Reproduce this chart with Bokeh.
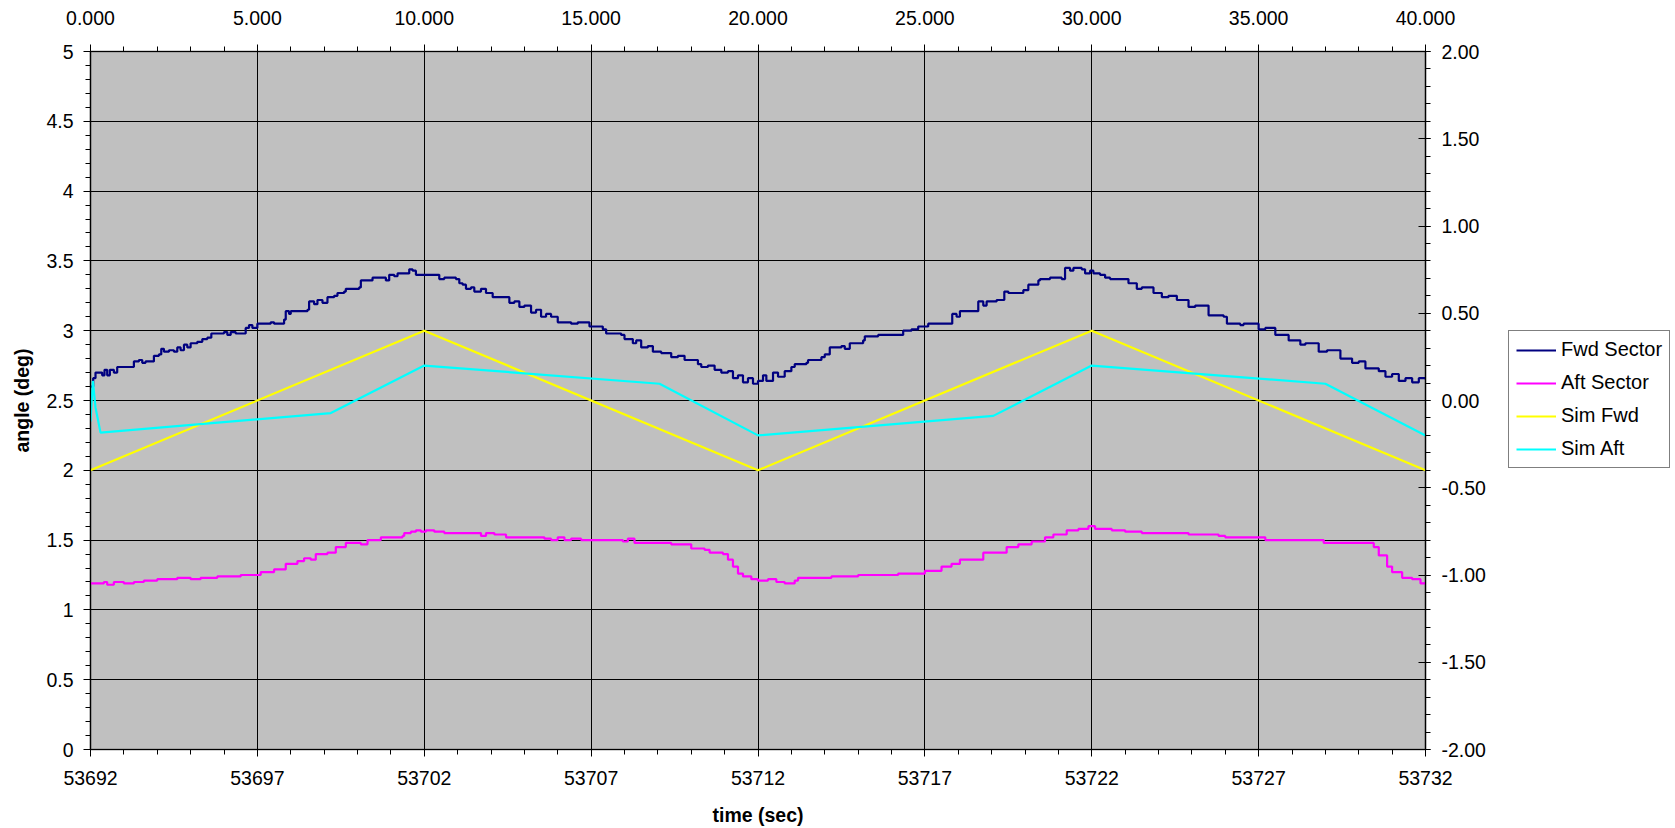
from bokeh.plotting import figure
from bokeh.layouts import row
from bokeh.models import (Range1d, LinearAxis, FixedTicker, NumeralTickFormatter,
                          Legend, LegendItem)
from bokeh.embed import file_html
from bokeh.resources import INLINE

# ---------------- data ----------------
fwd_t = [0.00, 0.08, 0.15, 0.30, 0.35, 0.42, 0.50, 0.58, 0.70, 0.80, 1.10, 1.30, 1.45, 1.55,
         1.65, 1.80, 1.90, 2.05, 2.12, 2.20, 2.35, 2.50, 2.60, 2.70, 2.80, 2.90, 3.00, 3.20,
         3.35, 3.50, 3.62, 3.85, 4.00, 4.10, 4.20, 4.35, 4.65, 4.75, 4.85, 5.00, 5.40, 5.50,
         5.80, 5.85, 5.95, 6.00, 6.50, 6.55, 6.70, 6.80, 6.95, 7.10, 7.30, 7.40, 7.60, 7.65,
         8.05, 8.10, 8.40, 8.45, 8.80, 8.85, 8.95, 9.10, 9.20, 9.50, 9.55, 9.65, 9.75, 10.40,
         10.45, 10.60, 10.95, 11.05, 11.15, 11.25, 11.40, 11.50, 11.70, 11.85, 12.05, 12.45,
         12.55, 12.70, 12.85, 13.00, 13.20, 13.35, 13.50, 13.65, 13.80, 14.00, 14.40, 14.60,
         14.95, 15.35, 15.45, 15.90, 16.00, 16.25, 16.35, 16.50, 16.70, 16.85, 17.10, 17.40,
         17.60, 17.80, 18.05, 18.20, 18.30, 18.50, 18.70, 18.90, 19.10, 19.25, 19.40, 19.55,
         19.70, 19.85, 20.00, 20.15, 20.25, 20.45, 20.60, 20.80, 21.00, 21.10, 21.45, 21.50,
         21.90, 22.00, 22.15, 22.50, 22.60, 22.75, 23.15, 23.20, 23.50, 23.60, 24.25, 24.35,
         24.60, 24.80, 25.10, 25.70, 25.82, 25.95, 26.05, 26.45, 26.60, 26.75, 26.85, 27.15,
         27.38, 27.50, 27.95, 28.10, 28.40, 28.45, 28.75, 29.10, 29.20, 29.35, 29.45, 29.70,
         29.80, 29.95, 30.05, 30.25, 30.40, 30.55, 30.95, 31.10, 31.35, 31.50, 31.85, 32.10,
         32.30, 32.55, 32.90, 33.10, 33.50, 33.95, 34.05, 34.45, 34.55, 35.00, 35.20, 35.50,
         35.90, 36.25, 36.40, 36.80, 37.05, 37.45, 37.80, 38.00, 38.20, 38.60, 38.80, 39.00,
         39.20, 39.40, 39.60, 39.80, 40.00]
fwd_v = [2.60, 2.66, 2.70, 2.70, 2.68, 2.72, 2.68, 2.72, 2.70, 2.74, 2.74, 2.78, 2.79, 2.77,
         2.78, 2.78, 2.82, 2.83, 2.87, 2.85, 2.86, 2.85, 2.88, 2.86, 2.90, 2.88, 2.91, 2.92,
         2.94, 2.95, 2.98, 2.98, 2.99, 2.97, 2.99, 2.98, 3.02, 3.04, 3.02, 3.05, 3.06, 3.05,
         3.08, 3.14, 3.12, 3.14, 3.15, 3.21, 3.19, 3.22, 3.20, 3.24, 3.25, 3.27, 3.28, 3.30,
         3.31, 3.36, 3.36, 3.38, 3.38, 3.36, 3.40, 3.39, 3.41, 3.41, 3.44, 3.43, 3.40, 3.40,
         3.37, 3.38, 3.37, 3.34, 3.33, 3.30, 3.31, 3.28, 3.30, 3.27, 3.24, 3.24,
         3.20, 3.21, 3.17, 3.18, 3.13, 3.15, 3.10, 3.12, 3.10, 3.06, 3.05, 3.06,
         3.03, 3.01, 2.98, 2.97, 2.94, 2.91, 2.93, 2.88, 2.89, 2.85, 2.84, 2.81,
         2.82, 2.79, 2.79, 2.76, 2.74, 2.75, 2.72, 2.70, 2.71, 2.66, 2.68, 2.63,
         2.66, 2.62, 2.64, 2.68, 2.64, 2.70, 2.67, 2.71, 2.74, 2.76, 2.77, 2.79,
         2.81, 2.83, 2.88, 2.89, 2.87, 2.91, 2.93, 2.96, 2.96, 2.97, 2.97, 3.00,
         3.01, 3.03, 3.05, 3.05, 3.12, 3.10, 3.14, 3.14, 3.21, 3.18, 3.21, 3.22,
         3.28, 3.27, 3.29, 3.33, 3.36, 3.37, 3.38, 3.37, 3.45, 3.43, 3.45, 3.44,
         3.41, 3.43, 3.41, 3.40, 3.38, 3.37, 3.37, 3.34, 3.30, 3.31, 3.27, 3.24,
         3.25, 3.22, 3.17, 3.18, 3.11, 3.10, 3.05, 3.04, 3.05, 3.01, 3.02, 2.97,
         2.93, 2.90, 2.91, 2.85, 2.86, 2.80, 2.77, 2.78, 2.73, 2.71, 2.67, 2.69,
         2.64, 2.66, 2.63, 2.66, 2.65]

aft_t = [0.00, 0.40, 0.50, 0.70, 1.00, 1.30, 1.60, 2.00, 2.40, 2.60, 3.00, 3.30, 3.80, 4.20,
         4.50, 4.90, 5.10, 5.50, 5.85, 6.20, 6.40, 6.60, 6.75, 7.10, 7.35, 7.65, 8.10, 8.30,
         8.70, 9.35, 9.40, 9.60, 9.75, 9.90, 10.05, 10.30, 10.60, 11.60, 11.70, 11.85, 12.10,
         12.45, 13.00, 13.60, 13.80, 14.00, 14.20, 14.40, 14.70, 15.80, 15.95, 16.10, 16.30,
         17.40, 17.60, 18.00, 18.40, 18.55, 18.95, 19.10, 19.25, 19.40, 19.55, 19.80, 20.00,
         20.30, 20.55, 20.80, 21.10, 21.20, 22.00, 22.20, 23.00, 23.50, 24.20, 24.60, 25.00,
         25.50, 25.80, 26.05, 26.45, 26.75, 27.20, 27.45, 27.80, 28.20, 28.60, 28.85, 29.25,
         29.60, 29.90, 30.10, 30.60, 31.00, 31.50, 32.80, 32.90, 33.80, 34.00, 35.00, 35.20,
         36.80, 36.95, 38.30, 38.45, 38.60, 38.85, 39.00, 39.30, 39.60, 39.85, 40.00]
aft_v = [1.19, 1.20, 1.18, 1.20, 1.19, 1.20, 1.21, 1.22, 1.22, 1.23, 1.22, 1.23, 1.24, 1.24,
         1.25, 1.25, 1.27, 1.29, 1.33, 1.35, 1.37, 1.36, 1.40, 1.41, 1.45, 1.48, 1.47, 1.50,
         1.52, 1.53, 1.55, 1.56, 1.57, 1.56, 1.57, 1.56, 1.55, 1.55, 1.53, 1.55, 1.54,
         1.52, 1.52, 1.51, 1.50, 1.52, 1.50, 1.51, 1.50, 1.50, 1.49, 1.51, 1.48,
         1.47, 1.47, 1.44, 1.43, 1.41, 1.40, 1.36, 1.31, 1.26, 1.24, 1.22, 1.21,
         1.22, 1.20, 1.19, 1.21, 1.23, 1.23, 1.24, 1.25, 1.25, 1.26, 1.26, 1.28,
         1.31, 1.33, 1.36, 1.36, 1.41, 1.41, 1.45, 1.47, 1.49, 1.52, 1.54, 1.57,
         1.58, 1.60, 1.58, 1.57, 1.56, 1.55, 1.55, 1.54, 1.53, 1.52, 1.52, 1.50,
         1.50, 1.48, 1.48, 1.45, 1.39, 1.31, 1.27, 1.23, 1.22, 1.19, 1.20]

simfwd_t = [0, 10, 20, 30, 40]
simfwd_v = [2.00, 3.00, 2.00, 3.00, 2.00]

simaft_t = [0.00, 0.07, 0.15, 0.30, 7.20, 10.00, 17.05, 20.00, 27.05, 30.00, 37.00, 40.00]
simaft_v = [2.35, 2.64, 2.45, 2.27, 2.41, 2.75, 2.62, 2.25, 2.39, 2.75, 2.62, 2.25]

series_names = ["Fwd Sector", "Aft Sector", "Sim Fwd", "Sim Aft"]
series_colors = ["#000080", "#FF00FF", "#FFFF00", "#00FFFF"]

top_ticks = [0, 5, 10, 15, 20, 25, 30, 35, 40]
bottom_ticks = [53692, 53697, 53702, 53707, 53712, 53717, 53722, 53727, 53732]
left_ticks = [0, 0.5, 1, 1.5, 2, 2.5, 3, 3.5, 4, 4.5, 5]
right_ticks = [-2.0, -1.5, -1.0, -0.5, 0.0, 0.5, 1.0, 1.5, 2.0]

FONT = "Liberation Sans"
FS = "19.5px"
LW = 2.2

p = figure(width=1500, height=828, x_range=Range1d(0, 40), y_range=Range1d(0, 5),
           x_axis_location="above", output_backend="svg", toolbar_location=None,
           min_border_left=90, min_border_right=75, min_border_top=51, min_border_bottom=79)
p.background_fill_color = "#C0C0C0"
p.border_fill_color = "white"
p.outline_line_color = "#505050"
p.outline_line_width = 1.5

p.extra_x_ranges = {"abs": Range1d(bottom_ticks[0], bottom_ticks[-1])}
p.extra_y_ranges = {"right": Range1d(right_ticks[0], right_ticks[-1])}

top_ticker = FixedTicker(ticks=top_ticks, minor_ticks=list(range(0, 41)))
left_ticker = FixedTicker(ticks=left_ticks, minor_ticks=[i / 10 for i in range(0, 51)])
bottom_ticker = FixedTicker(ticks=bottom_ticks,
                            minor_ticks=list(range(bottom_ticks[0], bottom_ticks[-1] + 1)))
right_ticker = FixedTicker(ticks=right_ticks, minor_ticks=[i / 10 for i in range(-20, 21)])


def style(ax):
    ax.axis_line_color = "black"
    ax.axis_line_width = 1.2
    ax.major_tick_line_color = "black"
    ax.minor_tick_line_color = "black"
    ax.major_tick_out = 7
    ax.major_tick_in = 0
    ax.minor_tick_out = 5
    ax.minor_tick_in = 0
    ax.major_label_text_font = FONT
    ax.major_label_text_font_size = FS
    ax.major_label_text_color = "black"
    ax.axis_label_text_font = FONT
    ax.axis_label_text_font_size = FS
    ax.axis_label_text_font_style = "bold"
    ax.axis_label_text_color = "black"


top = p.xaxis[0]
top.ticker = top_ticker
top.formatter = NumeralTickFormatter(format="0.000")
style(top)
top.major_label_standoff = 20

left = p.yaxis[0]
left.ticker = left_ticker
left.formatter = NumeralTickFormatter(format="0.[0]")
left.axis_label = "angle (deg)"
style(left)
left.major_label_standoff = 10
left.axis_label_standoff = 10

bottom = LinearAxis(x_range_name="abs", ticker=bottom_ticker,
                    formatter=NumeralTickFormatter(format="0"), axis_label="time (sec)")
style(bottom)
bottom.major_label_standoff = 14
bottom.axis_label_standoff = 16
p.add_layout(bottom, "below")

right = LinearAxis(y_range_name="right", ticker=right_ticker,
                   formatter=NumeralTickFormatter(format="0.00"))
style(right)
right.major_tick_in = 7
right.major_tick_out = 5
right.major_label_standoff = 11
p.add_layout(right, "right")

p.xgrid.ticker = top_ticker
p.ygrid.ticker = left_ticker
for g in (p.xgrid[0], p.ygrid[0]):
    g.grid_line_color = "black"
    g.grid_line_alpha = 1.0
    g.grid_line_width = 1

p.step(fwd_t, fwd_v, mode="after", line_color=series_colors[0], line_width=LW)
p.step(aft_t, aft_v, mode="after", line_color=series_colors[1], line_width=LW)
p.line(simfwd_t, simfwd_v, line_color=series_colors[2], line_width=LW)
p.line(simaft_t, simaft_v, line_color=series_colors[3], line_width=LW)

# ---------------- legend panel (separate figure to the right) ----------------
# the series are drawn again here, but the ranges keep them out of view:
# only the legend box of this panel is visible.
lg = figure(width=175, height=828, x_range=Range1d(0, 1), y_range=Range1d(-1, 0),
            x_axis_location=None, y_axis_location=None, output_backend="svg",
            toolbar_location=None, min_border=0)
lg.grid.visible = False
lg.outline_line_color = None
lg.background_fill_color = "white"
lg.border_fill_color = "white"
series_data = [(fwd_t, fwd_v), (aft_t, aft_v), (simfwd_t, simfwd_v), (simaft_t, simaft_v)]
items = []
for name, col, (xs, ys) in zip(series_names, series_colors, series_data):
    r = lg.line(xs, ys, line_color=col, line_width=LW)
    items.append(LegendItem(label=name, renderers=[r]))

legend = Legend(items=items, location=(8, 281))
legend.label_text_font = FONT
legend.label_text_font_size = "20px"
legend.label_text_color = "black"
legend.border_line_color = "black"
legend.border_line_width = 1
legend.background_fill_color = "white"
legend.background_fill_alpha = 1
legend.glyph_width = 40
legend.glyph_height = 22
legend.label_height = 22
legend.label_standoff = 5
legend.padding = 7
legend.spacing = 10
legend.margin = 0
lg.add_layout(legend, "center")

layout = row(p, lg)
open("out.html", "w").write(file_html(layout, INLINE))
